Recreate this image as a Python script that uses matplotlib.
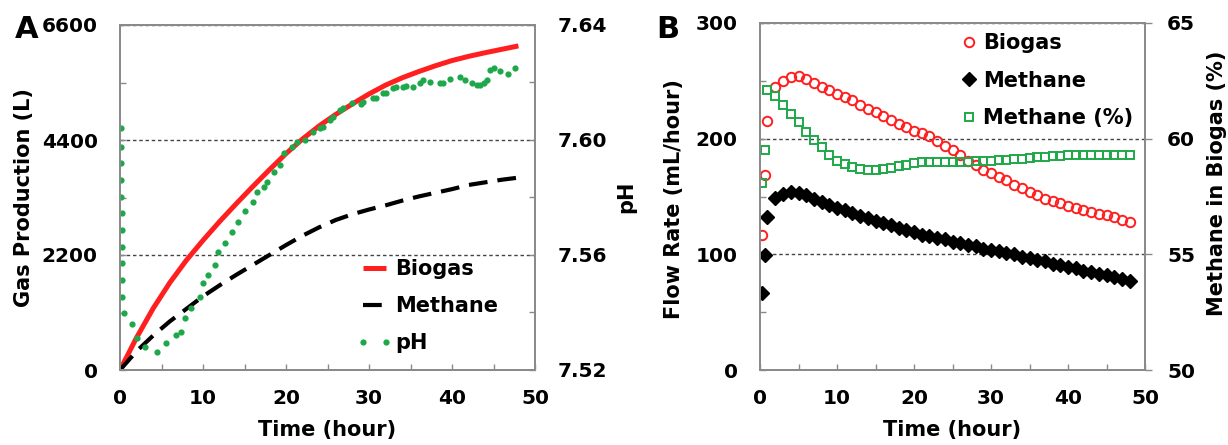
import matplotlib
matplotlib.use("Agg")
import matplotlib.pyplot as plt
from matplotlib.ticker import MultipleLocator, FormatStrFormatter

plt.rcParams['font.family'] = ['DejaVu Sans']
plt.rcParams['font.weight'] = 'bold'

# ---- panel A: cumulative gas production and pH ----
time_a = [0, 2, 4, 6, 8, 10, 12, 14, 16, 18, 20, 22, 24, 26, 28, 30, 32, 34, 36, 38, 40, 42, 44, 46, 48]
biogas_cum = [0, 620, 1180, 1670, 2100, 2480, 2840, 3180, 3510, 3830, 4140, 4420, 4670, 4890, 5090,
              5280, 5450, 5590, 5710, 5820, 5920, 6000, 6070, 6135, 6200]
methane_cum = [0, 360, 660, 930, 1170, 1410, 1620, 1820, 2010, 2200, 2390, 2570, 2730, 2870, 2980,
               3070, 3150, 3240, 3320, 3390, 3460, 3540, 3590, 3640, 3680]

time_ph = [0.10, 0.12, 0.14, 0.16, 0.18, 0.20, 0.22, 0.24, 0.26, 0.28, 0.30,
           0.5, 1.4, 2.0, 3.0, 4.4, 5.6, 6.8, 7.4, 7.8, 8.6,
           9.6, 10.0, 10.6, 11.4, 11.8, 12.6, 13.5, 14.2, 15.0, 16.0,
           16.5, 17.3, 17.7, 18.5, 19.3, 19.7, 20.7, 21.3, 22.3, 23.3,
           24.1, 24.5, 25.3, 25.7, 26.5, 26.9, 28.0, 29.0, 29.3, 30.5,
           30.9, 31.7, 32.1, 32.9, 33.3, 34.1, 34.5, 35.3, 36.1, 36.5,
           37.3, 38.6, 38.9, 39.8, 41.0, 41.6, 42.4, 43.0, 43.4, 43.8,
           44.2, 44.6, 45.0, 45.8, 46.7, 47.6]
ph = [7.6042, 7.5976, 7.5920, 7.5861, 7.5802, 7.5746, 7.5687, 7.5628, 7.5572, 7.5513, 7.5454,
      7.5398, 7.5360, 7.5311, 7.5280, 7.5263, 7.5294, 7.5322, 7.5332, 7.5381, 7.5416,
      7.5454, 7.5503, 7.5530, 7.5565, 7.5610, 7.5642, 7.5680, 7.5715, 7.5753, 7.5784,
      7.5819, 7.5837, 7.5854, 7.5889, 7.5913, 7.5955, 7.5976, 7.5993, 7.6000, 7.6028,
      7.6042, 7.6046, 7.6070, 7.6081, 7.6104, 7.6110, 7.6129, 7.6125, 7.6133, 7.6145,
      7.6146, 7.6162, 7.6163, 7.6180, 7.6184, 7.6185, 7.6188, 7.6184, 7.6197, 7.6209,
      7.6203, 7.6197, 7.6198, 7.6212, 7.6220, 7.6209, 7.6198, 7.6191, 7.6191, 7.6197,
      7.6209, 7.6243, 7.6250, 7.6240, 7.6230, 7.6250]

# ---- panel B: flow rates and methane content ----
time_b = [0.2, 0.6, 0.9, 2, 3, 4, 5, 6, 7, 8, 9, 10, 11, 12, 13, 14, 15, 16, 17, 18, 19, 20,
          21, 22, 23, 24, 25, 26, 27, 28, 29, 30, 31, 32, 33, 34, 35, 36, 37, 38, 39, 40,
          41, 42, 43, 44, 45, 46, 47, 48]
biogas_rate = [117, 169, 215, 245, 250, 253, 254, 252, 248, 245, 242, 239, 236, 233, 229, 226, 223,
               220, 216, 213, 210, 207, 205, 202, 198, 194, 190, 186, 181, 177, 173, 170, 167, 164,
               160, 157, 154, 151, 148, 146, 144, 142, 140, 138, 137, 135, 134, 132, 130, 128]
methane_rate = [67, 99, 132, 149, 152, 154, 153, 151, 148, 145, 143, 140, 138, 136, 133, 131, 129,
                127, 125, 123, 121, 119, 117, 116, 114, 113, 111, 110, 108, 107, 105, 104, 103, 101,
                100, 98, 97, 95, 94, 92, 91, 89, 88, 86, 85, 83, 82, 80, 79, 77]
methane_pct = [58.1, 59.5, 62.1, 61.85, 61.45, 61.05, 60.7, 60.3, 59.95, 59.65, 59.3, 59.05, 58.9,
               58.78, 58.7, 58.66, 58.65, 58.68, 58.73, 58.8, 58.87, 58.93, 58.97, 59.0, 59.0,
               59.0, 59.0, 59.0, 59.0, 59.02, 59.03, 59.05, 59.06, 59.08, 59.1, 59.13, 59.16,
               59.19, 59.22, 59.24, 59.26, 59.28, 59.29, 59.3, 59.3, 59.3, 59.3, 59.3, 59.3, 59.3]

RED = '#ff1f1f'
GREEN = '#1fa84a'
GREY = '#8a8a8a'
W, H = 1228, 445
FS = 14.5


def style(ax):
    for s in ax.spines.values():
        s.set_color(GREY)
        s.set_linewidth(1.3)
    ax.tick_params(which='both', direction='in', length=4, width=1, color=GREY,
                   labelsize=FS, pad=16)
    ax.tick_params(axis='x', which='both', pad=14)
    ax.xaxis.set_major_locator(MultipleLocator(10))
    ax.xaxis.set_minor_locator(MultipleLocator(5))
    ax.set_xlim(0, 50)


def fig_text(x, y, s, **kw):
    fig.text(x / W, 1 - y / H, s, ha='center', va='center', **kw)


fig = plt.figure(figsize=(W / 100, H / 100), dpi=100)

# panel A
ax = fig.add_axes([120 / W, 1 - 370 / H, 415 / W, 345 / H])
style(ax)
ax.set_ylim(0, 6600)
ax.yaxis.set_major_locator(MultipleLocator(2200))
ax.yaxis.set_minor_locator(MultipleLocator(1100))
ax.grid(axis='y', which='major', linestyle=(0, (2.5, 2)), color='#444444', linewidth=1.0)
l1, = ax.plot(time_a, biogas_cum, color=RED, lw=3.6, solid_capstyle='butt')
l2, = ax.plot(time_a, methane_cum, color='black', lw=3, linestyle=(0, (4.5, 2.4)),
              dash_capstyle='butt')
ax2 = ax.twinx()
style(ax2)
ax2.set_ylim(7.52, 7.64)
ax2.yaxis.set_major_locator(MultipleLocator(0.04))
ax2.yaxis.set_minor_locator(MultipleLocator(0.02))
ax2.yaxis.set_major_formatter(FormatStrFormatter('%.2f'))
l3, = ax2.plot(time_ph, ph, linestyle='none', marker='o', ms=4.5, color=GREEN, mec='none')
ax2.legend([l1, l2, l3], ['Biogas', 'Methane', 'pH'], loc='upper left',
           bbox_to_anchor=(0.571, 0.321), frameon=False, fontsize=15, handlelength=1.68,
           handletextpad=0.15, labelspacing=0.82, borderpad=0, borderaxespad=0, numpoints=2)

fig_text(24, 198, 'Gas Production (L)', rotation=90, fontsize=15)
fig_text(626, 197, 'pH', rotation=90, fontsize=15)
fig_text(327, 430, 'Time (hour)', fontsize=15)
fig_text(27, 29, 'A', fontsize=22)

# panel B
bx = fig.add_axes([760 / W, 1 - 370 / H, 385 / W, 347 / H])
style(bx)
bx.set_ylim(0, 300)
bx.yaxis.set_major_locator(MultipleLocator(100))
bx.yaxis.set_minor_locator(MultipleLocator(50))
bx.grid(axis='y', which='major', linestyle=(0, (2.5, 2)), color='#444444', linewidth=1.0)
m1, = bx.plot(time_b, biogas_rate, linestyle='none', marker='o', ms=6.8, mfc='none',
              mec=RED, mew=1.4)
m2, = bx.plot(time_b, methane_rate, linestyle='none', marker='D', ms=7.5, color='black')
bx2 = bx.twinx()
style(bx2)
bx2.tick_params(axis='y', which='major', direction='out', length=5, pad=11)
bx2.set_ylim(50, 65)
bx2.yaxis.set_major_locator(MultipleLocator(5))
m3, = bx2.plot(time_b, methane_pct, linestyle='none', marker='s', ms=5.8, mfc='none',
               mec=GREEN, mew=1.4)
bx2.legend([m1, m2, m3], ['Biogas', 'Methane', 'Methane (%)'], loc='upper left',
           bbox_to_anchor=(0.522, 0.971), frameon=False, fontsize=15, handlelength=0.8,
           handletextpad=0.25, labelspacing=0.85, borderpad=0, borderaxespad=0, numpoints=1)

fig_text(674, 199, 'Flow Rate (mL/hour)', rotation=90, fontsize=15)
fig_text(1217, 183, 'Methane in Biogas (%)', rotation=90, fontsize=15)
fig_text(952, 430, 'Time (hour)', fontsize=15)
fig_text(668, 30, 'B', fontsize=22)

fig.savefig('out.png', dpi=100)
